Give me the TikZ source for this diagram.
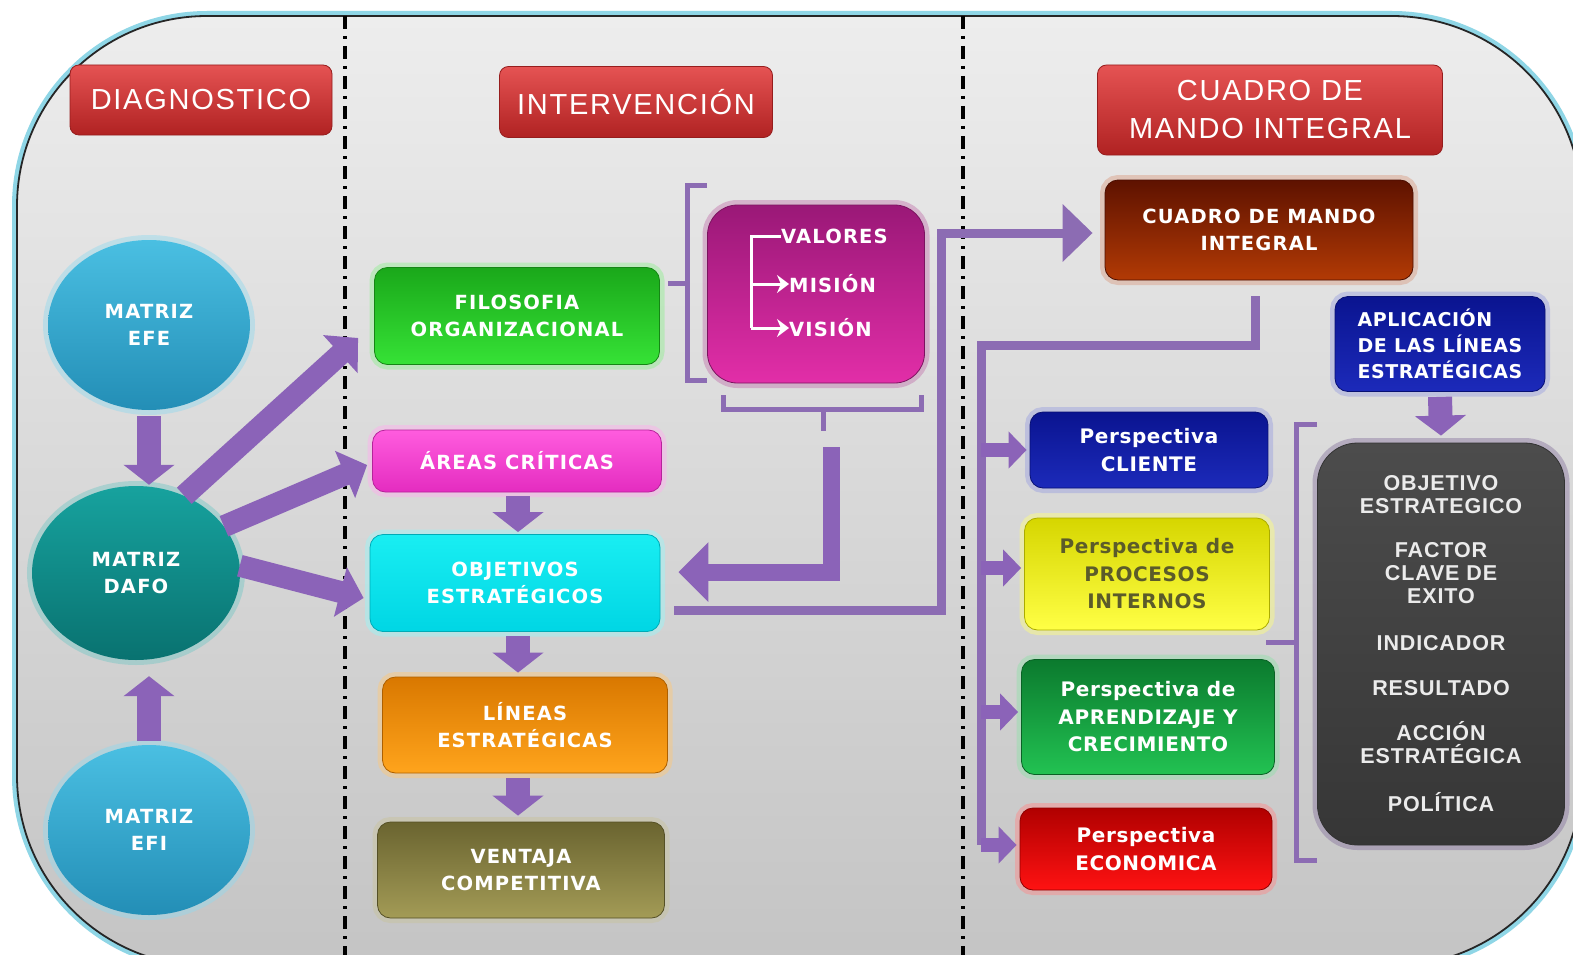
\documentclass[tikz,border=0pt]{standalone}
\usepackage{fontspec}
\setmainfont{Liberation Sans}
\newfontfamily\bxf{DejaVu Sans}[LetterSpace=6]
\newfontfamily\pxf{DejaVu Sans}[LetterSpace=3]
\newfontfamily\hdf{Liberation Sans}[LetterSpace=6]
\newfontfamily\gyf{Liberation Sans}[LetterSpace=4]
\usetikzlibrary{arrows.meta,calc,shapes.geometric}

\definecolor{apurple}{HTML}{8B63B8}
\definecolor{lpurple}{HTML}{8C6CB3}
\definecolor{hredtop}{HTML}{E55353}
\definecolor{hredbot}{HTML}{B02222}
\definecolor{bgtop}{HTML}{EDEDED}
\definecolor{bgbot}{HTML}{C4C4C4}
\definecolor{glowc}{HTML}{8FD6E6}
\definecolor{efetop}{HTML}{4ABFE2}
\definecolor{efebot}{HTML}{238EB6}
\definecolor{dafotop}{HTML}{17A29E}
\definecolor{dafobot}{HTML}{097270}
\definecolor{filotop}{HTML}{1AA81A}
\definecolor{filobot}{HTML}{36E236}
\definecolor{areatop}{HTML}{FF5CDE}
\definecolor{areabot}{HTML}{E42CC0}
\definecolor{objtop}{HTML}{19EEF2}
\definecolor{objbot}{HTML}{00D6E4}
\definecolor{lintop}{HTML}{D97800}
\definecolor{linbot}{HTML}{FFA41C}
\definecolor{ventop}{HTML}{6A6430}
\definecolor{venbot}{HTML}{A39B56}
\definecolor{vmvtop}{HTML}{9A1877}
\definecolor{vmvbot}{HTML}{E22EA8}
\definecolor{cmitop}{HTML}{5E1200}
\definecolor{cmibot}{HTML}{B23A05}
\definecolor{blutop}{HTML}{0A1490}
\definecolor{blubot}{HTML}{1C2ABA}
\definecolor{yeltop}{HTML}{D6D600}
\definecolor{yelbot}{HTML}{FFFF45}
\definecolor{grntop}{HTML}{0B7A2E}
\definecolor{grnbot}{HTML}{22C252}
\definecolor{redtop}{HTML}{B00000}
\definecolor{redbot}{HTML}{FF1212}
\definecolor{graytop}{HTML}{4C4C4C}
\definecolor{graybot}{HTML}{363636}
\definecolor{yeltext}{HTML}{5B5B2A}

\begin{document}
\begin{tikzpicture}[x=1pt,y=-1pt,
  hdr/.style={rectangle, rounded corners=9pt, top color=hredtop, bottom color=hredbot,
    draw=hredbot!85!black, line width=0.8pt, text=white,
    font=\hdf\fontsize{29}{38}\selectfont, align=center, inner sep=0pt},
  cbox/.style={rectangle, rounded corners=13pt, text=white,
    font=\bxf\bfseries\fontsize{19.5}{27}\selectfont, align=center, inner sep=0pt, line width=0.8pt},
  pbox/.style={cbox, font=\pxf\bfseries\fontsize{20}{27.5}\selectfont},
  glow/.style={preaction={draw=#1, line width=10pt, draw opacity=0.45}},
  circ/.style={ellipse, text=white, font=\bxf\bfseries\fontsize{19.5}{27}\selectfont,
    align=center, inner sep=0pt, minimum width=202pt, minimum height=170pt},
  midarrow/.style={draw=apurple, line width=22pt, -{Triangle[width=50pt,length=24pt]}},
  dnarrow/.style={draw=apurple, line width=24pt, -{Triangle[width=50pt,length=20pt]}},
  smarrow/.style={draw=apurple, line width=14pt, -{Triangle[width=36pt,length=18pt]}},
  pline/.style={draw=lpurple, line width=9pt},
  bline/.style={draw=lpurple, line width=5pt},
  wline/.style={draw=white, line width=3pt},
  sepline/.style={draw=black, line width=3.5pt, dash pattern=on 13pt off 7pt on 3pt off 7pt},
  ptext/.style={font=\bxf\bfseries\fontsize{19.5}{27}\selectfont, text=white, inner sep=0pt},
  gtext/.style={font=\gyf\bfseries\fontsize{21.5}{23}\selectfont, text=black!8, align=center, inner sep=0pt}
]
\useasboundingbox (0,0) rectangle (1573,955);
% background panel
\fill[white] (0,0) rectangle (1573,955);
\draw[draw=glowc, line width=10pt, rounded corners=190pt] (17,16) rectangle (1582,966);
\shade[top color=bgtop, bottom color=bgbot, rounded corners=190pt] (17,16) rectangle (1582,966);
\draw[draw=black!85, line width=1.8pt, rounded corners=190pt] (17,16) rectangle (1582,966);

% separators
\draw[sepline] (345,16) -- (345,955);
\draw[sepline] (963,16) -- (963,955);

% headers
\node[hdr, minimum width=262pt, minimum height=70pt] (hdiag) at (201,100) {DIAGNOSTICO};
\node[hdr, minimum width=273pt, minimum height=71pt] (hinter) at (636,102) {INTERVENCIÓN};
\node[hdr, minimum width=345pt, minimum height=90pt] (hcmi) at (1270,110) {CUADRO DE\\MANDO INTEGRAL};

% circles
\node[circ, top color=efetop, bottom color=efebot, glow=efetop!60!white] (efe) at (149,325) {MATRIZ\\EFE};
\node[circ, minimum width=208pt, minimum height=174pt, top color=dafotop, bottom color=dafobot, glow=dafotop!60!white] (dafo) at (136,573) {MATRIZ\\DAFO};
\node[circ, top color=efetop, bottom color=efebot, glow=efetop!60!white] (efi) at (149,830) {MATRIZ\\EFI};

% intervention boxes
\node[cbox, minimum width=285pt, minimum height=97pt, top color=filotop, bottom color=filobot, draw=filotop!80!black, glow=filobot!55!white] (filo) at (517,316) {FILOSOFIA\\ORGANIZACIONAL};
\node[cbox, minimum width=289pt, minimum height=62pt, top color=areatop, bottom color=areabot, draw=areabot!80!black, glow=areatop!50!white] (areas) at (517,461) {ÁREAS CRÍTICAS};
\node[cbox, minimum width=290pt, minimum height=97pt, top color=objtop, bottom color=objbot, draw=objbot!80!black, glow=objtop!45!white] (obj) at (515,583) {OBJETIVOS\\ESTRATÉGICOS};
\node[cbox, minimum width=285pt, minimum height=96pt, top color=lintop, bottom color=linbot, draw=lintop!80!black, glow=linbot!60!white] (lineas) at (525,725) {LÍNEAS\\ESTRATÉGICAS};
\node[cbox, minimum width=287pt, minimum height=96pt, top color=ventop, bottom color=venbot, draw=ventop!80!black, glow=venbot!60!white] (ventaja) at (521,870) {VENTAJA\\COMPETITIVA};

% valores / mision / vision box
\node[cbox, rounded corners=30pt, minimum width=217pt, minimum height=178pt, top color=vmvtop, bottom color=vmvbot, draw=vmvtop!80!black, glow=vmvtop!60!white] (vmv) at (816,294) {};
\node[ptext, anchor=west] (valores) at (781,236) {VALORES};
\node[ptext, anchor=west] (mision) at (789,284) {MISIÓN};
\node[ptext, anchor=west] (vision) at (789,328) {VISIÓN};
\coordinate (vt) at (751,236);
\draw[wline] (valores.west) -- (vt) -- (vt |- vision.west);
\draw[wline, -{Stealth[length=12pt,width=18pt]}] (vt |- mision.west) -- (mision.west);
\draw[wline, -{Stealth[length=12pt,width=18pt]}] (vt |- vision.west) -- (vision.west);

% cuadro de mando column
\node[cbox, minimum width=308pt, minimum height=100pt, top color=cmitop, bottom color=cmibot, draw=cmitop!80!black, glow=cmibot!50!white] (cmi) at (1259,230) {CUADRO DE MANDO\\INTEGRAL};
\node[pbox, minimum width=238pt, minimum height=76pt, top color=blutop, bottom color=blubot, draw=blutop!80!black, glow=blubot!45!white] (pcli) at (1149,450) {Perspectiva\\CLIENTE};
\node[pbox, minimum width=245pt, minimum height=112pt, top color=yeltop, bottom color=yelbot, draw=yeltop!80!black, glow=yelbot!70!white, text=yeltext] (pproc) at (1147,574) {Perspectiva de\\PROCESOS\\INTERNOS};
\node[pbox, minimum width=253pt, minimum height=115pt, top color=grntop, bottom color=grnbot, draw=grntop!80!black, glow=grnbot!50!white] (papr) at (1148,717) {Perspectiva de\\APRENDIZAJE Y\\CRECIMIENTO};
\node[pbox, minimum width=252pt, minimum height=82pt, top color=redtop, bottom color=redbot, draw=redtop!80!black, glow=redbot!50!white] (peco) at (1146,849) {Perspectiva\\ECONOMICA};
\node[cbox, font=\pxf\bfseries\fontsize{19}{26}\selectfont, minimum width=210pt, minimum height=95pt, top color=blutop, bottom color=blubot, draw=blutop!80!black, glow=blubot!45!white, align=left] (apl) at (1440,344) {APLICACIÓN\\DE LAS LÍNEAS\\ESTRATÉGICAS};
\node[cbox, rounded corners=40pt, minimum width=247pt, minimum height=402pt, top color=graytop, bottom color=graybot, draw=black!80, glow=lpurple!60!gray] (gbox) at (1441,644) {};
\node[gtext] (gtxt) at (gbox.center) {OBJETIVO\\ESTRATEGICO\\[21pt]FACTOR\\CLAVE DE\\EXITO\\[24pt]INDICADOR\\[22pt]RESULTADO\\[22pt]ACCIÓN\\ESTRATÉGICA\\[25pt]POLÍTICA};

% diagnostico arrows
\draw[dnarrow] ($(efe.south)+(0,6)$) -- ($(efe.south |- dafo.north)+(0,-1)$);
\draw[dnarrow] ($(efi.north)+(0,-4)$) -- ($(efi.north |- dafo.south)+(0,16)$);
\draw[midarrow] (dafo.58) -- ($(filo.west)+(-16,22)$);
\draw[midarrow] (dafo.28) -- ($(areas.west)+(-5,4)$);
\draw[midarrow] (dafo.4) -- ($(obj.west)+(-6,15)$);

% intervention arrows
\draw[dnarrow] ($(areas.south)+(1,4)$) -- ($(obj.north)+(3,-2)$);
\draw[dnarrow] ($(obj.south)+(3,4)$) -- ($(lineas.north)+(-7,-4)$);
\draw[dnarrow] ($(lineas.south)+(-7,5)$) -- ($(ventaja.north)+(-3,-6)$);

% brackets around valores box
\draw[bline] ($(vmv.north west)+(0,-19)$) -| ($(vmv.south west)+(-20,-3)$) -- ++(20,0);
\draw[bline] ($(filo.east)+(8,-33)$) -- ($(vmv.west)+(-20,-11)$);
\draw[bline] ($(vmv.south west)+(16,12)$) -- ++(0,14) -| ($(vmv.south east)+(-3,12)$);
\draw[bline] ($(vmv.south)+(7,26)$) -- ++(0,22);
\draw[draw=apurple, line width=17pt, -{Triangle[width=58pt,length=30pt]}] ($(vmv.south)+(15,64)$) |- ($(obj.east)+(18,-11)$);

% objetivos to cuadro de mando
\coordinate (j1) at (941,610);
\draw[pline, -{Triangle[width=56pt,length=30pt]}] ($(obj.east)+(14,27)$) -- (j1) |- ($(cmi.west)+(-12,3)$);

% cuadro de mando to perspectives
\coordinate (tr) at (981,345);
\coordinate (e1) at ($(pcli.west)+(-3,0)$);
\coordinate (e2) at ($(pproc.west)+(-3,-6)$);
\coordinate (e3) at ($(papr.west)+(-3,-5)$);
\coordinate (e4) at ($(peco.west)+(-3,-4)$);
\draw[pline] ($(cmi.south)+(-4,16)$) |- (tr) -- (tr |- e4);
\draw[smarrow] (tr |- e1) -- (e1);
\draw[smarrow] (tr |- e2) -- (e2);
\draw[smarrow] (tr |- e3) -- (e3);
\draw[smarrow] (tr |- e4) -- (e4);

% bracket between perspectives and gray box
\draw[bline] ($(gbox.north west)+(0,-18)$) -| ($(gbox.south west)+(-21,15)$) -- ++(21,0);
\draw[bline] ($(gbox.west)+(-21,-2)$) -- ($(pproc.east)+(-4,68)$);

% aplicacion to gray box
\draw[dnarrow] ($(apl.south)+(0,5)$) -- ($(gbox.north)+(0,-7)$);
\end{tikzpicture}
\end{document}
